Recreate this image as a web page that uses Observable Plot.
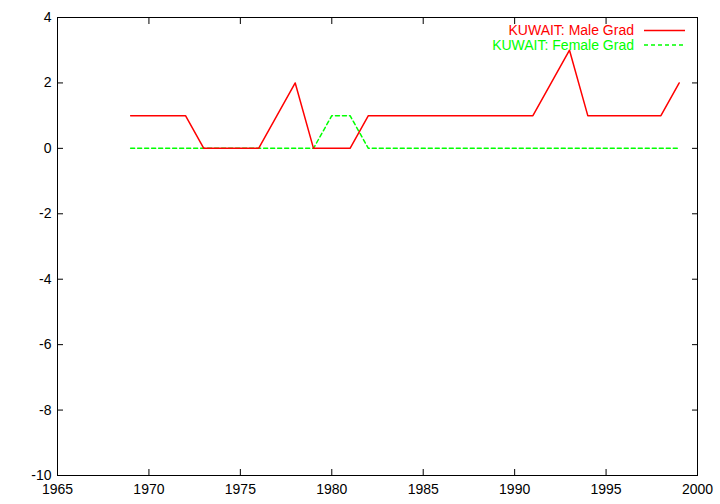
<!DOCTYPE html>
<html>
<head>
<meta charset="utf-8">
<script src="https://cdn.jsdelivr.net/npm/d3@7"></script>
<script src="https://cdn.jsdelivr.net/npm/@observablehq/plot@0.6"></script>
<style>
  html, body { margin: 0; padding: 0; background: white; }
</style>
</head>
<body>
<div id="chart"></div>
<script>
const years = [1969,1970,1971,1972,1973,1974,1975,1976,1977,1978,1979,1980,1981,1982,1983,1984,1985,1986,1987,1988,1989,1990,1991,1992,1993,1994,1995,1996,1997,1998,1999];
const maleGrad = [1,1,1,1,0,0,0,0,1,2,0,0,0,1,1,1,1,1,1,1,1,1,1,2,3,1,1,1,1,1,2];
const femaleGrad = [0,0,0,0,0,0,0,0,0,0,0,1,1,0,0,0,0,0,0,0,0,0,0,0,0,0,0,0,0,0,0];
const xTicks = [1965,1970,1975,1980,1985,1990,1995,2000];
const yTicks = [-10,-8,-6,-4,-2,0,2,4];
const seriesNames = ["KUWAIT: Male Grad", "KUWAIT: Female Grad"];
const seriesColors = ["#ff0000", "#00ff00"];

const male = years.map((y, i) => ({year: y, value: maleGrad[i]}));
const female = years.map((y, i) => ({year: y, value: femaleGrad[i]}));

const chart = Plot.plot({
  width: 720,
  height: 504,
  marginLeft: 57,
  marginRight: 23,
  marginTop: 17,
  marginBottom: 29,
  style: {fontFamily: "Liberation Sans, Arial, sans-serif", fontSize: "14px", background: "white", color: "black"},
  x: {domain: [1965, 2000]},
  y: {domain: [-10, 4]},
  marks: [
    Plot.line(female, {x: "year", y: "value", stroke: seriesColors[1], strokeWidth: 1.5, strokeDasharray: "4,3"}),
    Plot.line(male, {x: "year", y: "value", stroke: seriesColors[0], strokeWidth: 1.5}),
    Plot.frame({stroke: "black"}),
    Plot.axisX(xTicks, {anchor: "bottom", tickSize: -6, tickPadding: 15, tickFormat: d => String(d), label: null}),
    Plot.axisX(xTicks, {anchor: "top", tickSize: -6, tickFormat: () => "", label: null}),
    Plot.axisY(yTicks, {anchor: "left", tickSize: -6, tickPadding: 12, tickFormat: d => String(d), label: null}),
    Plot.axisY(yTicks, {anchor: "right", tickSize: -6, tickFormat: () => "", label: null})
  ]
});
document.getElementById("chart").appendChild(chart);

// legend (top-right, gnuplot style)
const svg = d3.select(chart);
const leg = svg.append("g").attr("font-family", "Liberation Sans, Arial, sans-serif").attr("font-size", 14);
seriesNames.forEach((name, i) => {
  const cy = 30.5 + i * 14.5;
  leg.append("text").attr("x", 634).attr("y", cy).attr("dy", "0.35em")
    .attr("text-anchor", "end").attr("fill", seriesColors[i]).text(name);
  leg.append("line").attr("x1", 644).attr("x2", 685).attr("y1", cy).attr("y2", cy)
    .attr("stroke", seriesColors[i]).attr("stroke-width", 1.5)
    .attr("stroke-dasharray", i === 1 ? "4,3" : null);
});
</script>
</body>
</html>
